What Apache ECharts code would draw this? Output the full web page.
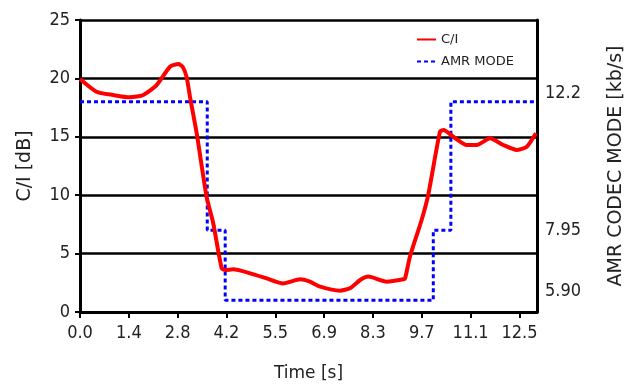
<!DOCTYPE html>
<html>
<head>
<meta charset="utf-8">
<script src="https://cdn.jsdelivr.net/npm/echarts@6/dist/echarts.min.js"></script>
<style>
  html, body { margin: 0; padding: 0; background: #fff; }
  #chart { width: 634px; height: 385px; }
</style>
</head>
<body>
<div id="chart"></div>
<script>
// time axis tick labels (ticks every 12.5/9 s)
const timeTickLabels = ['0.0', '1.4', '2.8', '4.2', '5.5', '6.9', '8.3', '9.7', '11.1', '12.5']
const timeTickStep = 12.5 / 9

// C/I curve
const ciTime = [0, 0.47, 0.94, 1.42, 1.8, 2.18, 2.56, 2.8, 2.92, 3.03, 3.13, 3.32, 3.6, 3.79, 4.03, 4.13, 4.36,
  4.84, 5.31, 5.78, 6.26, 6.54, 6.83, 7.4, 7.68, 7.97, 8.2, 8.72, 9.2, 9.25, 9.39, 9.72, 9.91, 10.24, 10.34,
  10.62, 11.0, 11.29, 11.66, 12.04, 12.42, 12.71, 12.97]
const ciDb = [19.95, 18.86, 18.58, 18.38, 18.58, 19.43, 21.0, 21.23, 21.0, 20.15, 18.4, 15.3, 9.87, 7.6, 3.74, 3.6, 3.65,
  3.31, 2.88, 2.45, 2.8, 2.6, 2.17, 1.83, 2.03, 2.74, 3.03, 2.6, 2.8, 2.9, 4.8, 7.9, 10.1, 15.44, 15.58,
  15.0, 14.3, 14.3, 14.87, 14.3, 13.87, 14.15, 15.3]

// AMR codec mode steps (plotted on the dB scale)
const amrTime = [0, 3.62, 4.13, 10.05, 10.55, 13]
const amrLevel = [18, 7, 1, 7, 18, 18]

// right axis labels
const codecRates = ['12.2', '7.95', '5.90']
const codecLabelAt = [18.75, 7, 1.75]

const FONT = "'DejaVu Sans Condensed', 'DejaVu Sans', sans-serif"
const FONT_WIDE = "'DejaVu Sans', sans-serif"

const chart = echarts.init(document.getElementById('chart'))

const option = {
  animation: false,
  backgroundColor: '#ffffff',
  grid: { left: 80, right: 97, top: 20, bottom: 73, outerBoundsMode: 'none', containLabel: false },
  legend: {
    orient: 'vertical',
    left: 411,
    top: 28,
    itemWidth: 19,
    itemHeight: 10,
    itemGap: 9,
    itemStyle: { opacity: 0 },
    textStyle: { fontFamily: FONT_WIDE, fontSize: 13, color: '#222' },
    data: ['C/I', 'AMR MODE']
  },
  xAxis: {
    type: 'value',
    min: 0,
    max: 13,
    interval: timeTickStep,
    name: 'Time [s]',
    nameLocation: 'middle',
    nameGap: 53,
    nameTextStyle: { fontFamily: FONT_WIDE, fontSize: 17, color: '#222' },
    axisLine: { lineStyle: { color: '#000', width: 3 } },
    axisTick: { show: true, length: 6, lineStyle: { color: '#000', width: 2 } },
    axisLabel: {
      fontFamily: FONT, fontSize: 18, color: '#222', margin: 12,
      showMaxLabel: false,
      formatter: v => timeTickLabels[Math.round(v / timeTickStep)] ?? ''
    },
    splitLine: { show: false }
  },
  yAxis: [
    {
      type: 'value',
      min: 0,
      max: 25,
      interval: 5,
      name: 'C/I [dB]',
      nameLocation: 'middle',
      nameGap: 45,
      nameTextStyle: { fontFamily: FONT_WIDE, fontSize: 19, color: '#222' },
      axisLine: { show: true, lineStyle: { color: '#000', width: 3 } },
      axisTick: { show: true, length: 5, lineStyle: { color: '#000', width: 2 } },
      axisLabel: { fontFamily: FONT, fontSize: 18, color: '#222', margin: 10 },
      splitLine: { show: true, lineStyle: { color: '#000', width: 2.5 } }
    },
    {
      type: 'value',
      min: 0,
      max: 25,
      interval: 0.25,
      position: 'right',
      name: 'AMR CODEC MODE [kb/s]',
      nameLocation: 'middle',
      nameGap: 70,
      nameRotate: 90,
      nameTextStyle: { fontFamily: FONT_WIDE, fontSize: 19, color: '#222' },
      axisLine: { show: true, lineStyle: { color: '#000', width: 3 } },
      axisTick: { show: false },
      axisLabel: {
        fontFamily: FONT, fontSize: 18, color: '#222', margin: 8,
        formatter: v => {
          const i = codecLabelAt.findIndex(p => Math.abs(p - v) < 1e-6)
          return i >= 0 ? codecRates[i] : ''
        }
      },
      splitLine: { show: false }
    }
  ],
  series: [
    {
      name: 'C/I',
      type: 'line',
      yAxisIndex: 0,
      data: ciTime.map((t, i) => [t, ciDb[i]]),
      showSymbol: false,
      symbol: 'none',
      smooth: 0.2,
      lineStyle: { color: '#ff0000', width: 4 },
      itemStyle: { color: '#ff0000' },
      z: 3
    },
    {
      name: 'AMR MODE',
      type: 'line',
      yAxisIndex: 0,
      step: 'end',
      data: amrTime.map((t, i) => [t, amrLevel[i]]),
      showSymbol: false,
      symbol: 'none',
      lineStyle: { color: '#0000ff', width: 3, type: [4, 3] },
      itemStyle: { color: '#0000ff' },
      z: 2
    }
  ]
}

chart.setOption(option)
</script>
</body>
</html>
